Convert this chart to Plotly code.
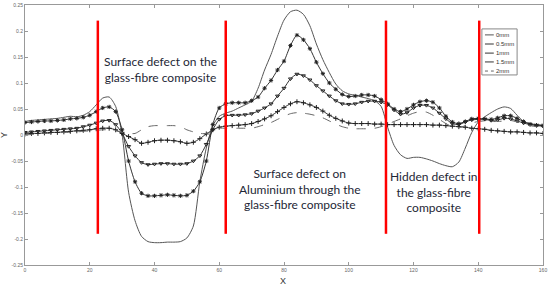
import plotly.graph_objects as go

# scan position along the sample
x = list(range(0, 162, 2))

# signal for each defect depth
y_0mm = [0.026, 0.028, 0.029, 0.030, 0.031, 0.032, 0.034, 0.036, 0.035, 0.038,
         0.045, 0.058, 0.071, 0.073, 0.055, 0.000, -0.110, -0.165, -0.195, -0.205,
         -0.207, -0.207, -0.206, -0.206, -0.205, -0.198, -0.175, -0.090, -0.025, 0.018,
         0.036, 0.042, 0.046, 0.052, 0.058, 0.065, 0.090, 0.125, 0.155, 0.190,
         0.221, 0.237, 0.240, 0.232, 0.210, 0.175, 0.145, 0.120, 0.098, 0.085,
         0.079, 0.076, 0.073, 0.070, 0.066, 0.055, 0.015, -0.020, -0.038, -0.045,
         -0.043, -0.043, -0.046, -0.050, -0.055, -0.059, -0.061, -0.052, -0.025, 0.005,
         0.025, 0.035, 0.043, 0.050, 0.054, 0.051, 0.038, 0.026, 0.022, 0.020, 0.019]

y_05mm = [0.024, 0.025, 0.026, 0.027, 0.027, 0.028, 0.029, 0.031, 0.032, 0.034,
          0.038, 0.045, 0.052, 0.054, 0.045, 0.010, -0.050, -0.090, -0.112, -0.117,
          -0.117, -0.116, -0.115, -0.116, -0.117, -0.116, -0.108, -0.090, -0.050, 0.020,
          0.052, 0.060, 0.062, 0.062, 0.062, 0.066, 0.073, 0.090, 0.105, 0.125,
          0.142, 0.172, 0.192, 0.183, 0.166, 0.140, 0.118, 0.100, 0.088, 0.078,
          0.074, 0.075, 0.077, 0.077, 0.075, 0.068, 0.060, 0.050, 0.045, 0.050,
          0.058, 0.064, 0.066, 0.063, 0.052, 0.036, 0.025, 0.022, 0.026, 0.031,
          0.032, 0.031, 0.030, 0.033, 0.037, 0.037, 0.032, 0.026, 0.021, 0.019, 0.018]

y_1mm = [0.005, 0.006, 0.007, 0.008, 0.009, 0.010, 0.011, 0.012, 0.013, 0.016,
         0.019, 0.023, 0.027, 0.028, 0.020, 0.003, -0.022, -0.040, -0.053, -0.057,
         -0.056, -0.055, -0.055, -0.056, -0.056, -0.055, -0.050, -0.040, -0.018, 0.010,
         0.030, 0.037, 0.038, 0.038, 0.039, 0.041, 0.046, 0.052, 0.060, 0.075,
         0.090, 0.108, 0.117, 0.114, 0.106, 0.095, 0.085, 0.075, 0.066, 0.060,
         0.059, 0.060, 0.063, 0.065, 0.065, 0.063, 0.058, 0.048, 0.040, 0.043,
         0.052, 0.057, 0.057, 0.052, 0.042, 0.031, 0.022, 0.020, 0.025, 0.029,
         0.030, 0.030, 0.028, 0.029, 0.032, 0.031, 0.027, 0.023, 0.020, 0.018, 0.017]

y_15mm = [0.002, 0.003, 0.003, 0.004, 0.005, 0.005, 0.006, 0.007, 0.008, 0.009,
          0.010, 0.012, 0.013, 0.013, 0.010, 0.003, -0.003, -0.009, -0.016, -0.014,
          -0.011, -0.010, -0.010, -0.011, -0.013, -0.016, -0.014, -0.007, 0.002, 0.010,
          0.015, 0.017, 0.018, 0.019, 0.020, 0.022, 0.026, 0.031, 0.037, 0.045,
          0.053, 0.060, 0.064, 0.062, 0.058, 0.053, 0.046, 0.038, 0.032, 0.027,
          0.023, 0.022, 0.022, 0.022, 0.021, 0.021, 0.020, 0.020, 0.020, 0.020,
          0.020, 0.020, 0.020, 0.019, 0.019, 0.018, 0.017, 0.016, 0.015, 0.013,
          0.012, 0.011, 0.009, 0.008, 0.007, 0.006, 0.006, 0.005, 0.004, 0.004, 0.003]

y_2mm = [0.000, 0.001, 0.002, 0.003, 0.003, 0.004, 0.005, 0.005, 0.006, 0.007,
         0.008, 0.009, 0.010, 0.010, 0.008, 0.005, 0.003, 0.003, 0.010, 0.016,
         0.018, 0.018, 0.018, 0.018, 0.016, 0.010, 0.006, 0.003, 0.003, 0.008,
         0.013, 0.013, 0.013, 0.013, 0.013, 0.013, 0.016, 0.020, 0.024, 0.030,
         0.036, 0.041, 0.043, 0.042, 0.040, 0.037, 0.033, 0.027, 0.021, 0.016,
         0.013, 0.012, 0.012, 0.012, 0.013, 0.016, 0.021, 0.026, 0.031, 0.037,
         0.042, 0.045, 0.044, 0.038, 0.030, 0.022, 0.016, 0.014, 0.018, 0.023,
         0.026, 0.027, 0.026, 0.026, 0.027, 0.028, 0.025, 0.021, 0.018, 0.016, 0.015]

series_names = ['0mm', '0.5mm', '1mm', '1.5mm', '2mm']

# region boundaries (red lines)
boundaries = [22.5, 62, 111.5, 140.3]
boundary_span = [-0.19, 0.22]

region_labels = ['Surface defect on the<br>glass-fibre composite',
                 'Surface defect on<br>Aluminium through the<br>glass-fibre composite',
                 'Hidden defect in<br>the glass-fibre<br>composite']
label_x = [42, 85, 126.3]
label_y = [0.126, -0.103, -0.110]

x_ticks = [0, 20, 40, 60, 80, 100, 120, 140, 160]
y_ticks = [-0.25, -0.2, -0.15, -0.1, -0.05, 0, 0.05, 0.1, 0.15, 0.2, 0.25]
y_ticktext = ['-0.25', '-0.2', '-0.15', '-0.1', '-0.05', '0', '0.05', '0.1', '0.15', '0.2', '0.25']

# look of each series: line colour, dash, marker symbol
styles = [
    dict(color='#555555', dash='solid', symbol=None),
    dict(color='#333333', dash='solid', symbol='asterisk-open'),
    dict(color='#333333', dash='solid', symbol='triangle-down-open'),
    dict(color='#333333', dash='solid', symbol='cross-thin-open'),
    dict(color='#666666', dash='dash', symbol=None),
]

fig = go.Figure()

for name, ys, st in zip(series_names, [y_0mm, y_05mm, y_1mm, y_15mm, y_2mm], styles):
    kw = dict(mode='lines')
    if st['symbol']:
        kw = dict(mode='lines+markers',
                  marker=dict(symbol=st['symbol'], size=3.5, color='#222222',
                              line=dict(color='#222222', width=1)))
    fig.add_trace(go.Scatter(x=x, y=ys, name=name, showlegend=False,
                             line=dict(color=st['color'], width=1, dash=st['dash'],
                                       shape='spline', smoothing=0.7), **kw))

for bx in boundaries:
    fig.add_trace(go.Scatter(x=[bx, bx], y=boundary_span, mode='lines', showlegend=False,
                             hoverinfo='skip', line=dict(color='#ff0000', width=2.5)))

for txt, lx, ly in zip(region_labels, label_x, label_y):
    fig.add_annotation(x=lx, y=ly, text=txt, showarrow=False,
                       font=dict(family='Lato', size=12, color='#1e2736'))

# compact legend box in the upper right (matlab style)
leg_x0, leg_x1, leg_top, leg_bottom = 0.882, 0.950, 0.908, 0.731
fig.add_shape(type='rect', xref='paper', yref='paper', x0=leg_x0, x1=leg_x1,
              y0=leg_bottom, y1=leg_top, line=dict(color='#888888', width=1),
              fillcolor='white', layer='above')
leg_rows = [0.885, 0.850, 0.815, 0.781, 0.746]
for name, st, ry in zip(series_names, styles, leg_rows):
    fig.add_shape(type='line', xref='paper', yref='paper', x0=0.888, x1=0.905, y0=ry, y1=ry,
                  line=dict(color=st['color'], width=1, dash='dot' if st['dash'] == 'dash' else 'solid'),
                  layer='above')
    fig.add_annotation(x=0.906, y=ry, xref='paper', yref='paper', text=name, showarrow=False,
                       xanchor='left', yanchor='middle', font=dict(size=6, color='#333333'))
    if st['symbol']:
        fig.add_trace(go.Scatter(x=[0.8965], y=[ry], xaxis='x2', yaxis='y2', mode='markers',
                                 showlegend=False, hoverinfo='skip',
                                 marker=dict(symbol=st['symbol'], size=3.5, color='#222222',
                                             line=dict(color='#222222', width=1))))

axis_style = dict(showline=True, linecolor='#999999', linewidth=1, mirror='ticks',
                  ticks='inside', ticklen=3, tickcolor='#999999', showgrid=False,
                  zeroline=False, automargin=False, tickfont=dict(size=5, color='#666666'))

fig.update_xaxes(range=[0, 160], tickvals=x_ticks, **axis_style)
fig.update_yaxes(range=[-0.25, 0.25], tickvals=y_ticks, ticktext=y_ticktext, **axis_style)

fig.add_annotation(x=0.498, y=0, xref='paper', yref='paper', text='X', showarrow=False,
                   yanchor='top', yshift=-9, font=dict(size=9, color='#333333'))
fig.add_annotation(x=0, y=0.5, xref='paper', yref='paper', text='Y', showarrow=False,
                   xanchor='right', xshift=-14, textangle=-90, font=dict(size=9, color='#333333'))

fig.update_layout(width=550, height=286, margin=dict(l=25, r=7, t=5, b=21),
                  plot_bgcolor='white', paper_bgcolor='white',
                  font=dict(family='Arial'),
                  xaxis2=dict(overlaying='x', range=[0, 1], visible=False),
                  yaxis2=dict(overlaying='y', range=[0, 1], visible=False))

# page body has a default 8px margin, drop it so the figure sits at the top-left corner
fig.write_html("out.html", config={'displayModeBar': False},
               post_script="document.body.style.margin='0';")
